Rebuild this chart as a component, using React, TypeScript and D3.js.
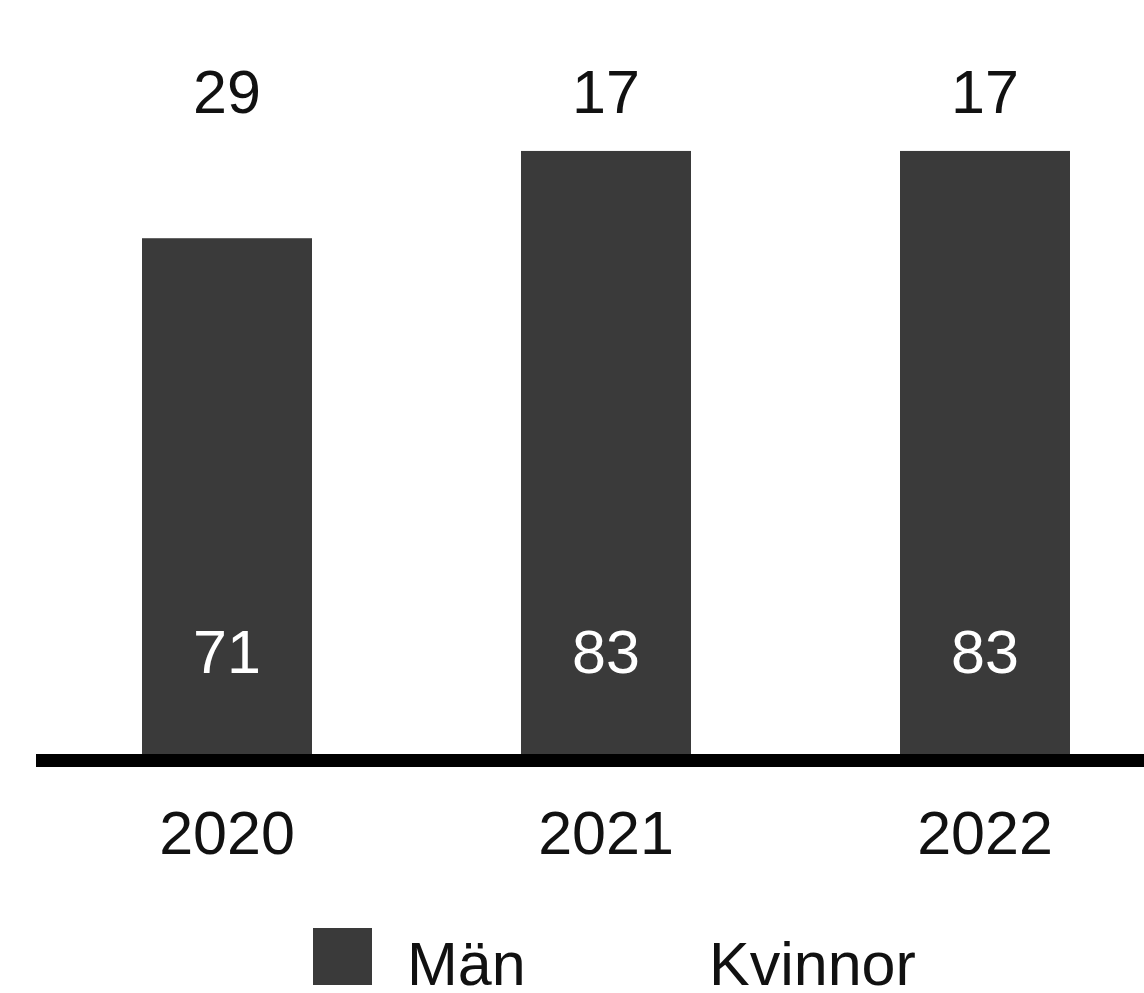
import React, { useEffect } from "react";
import * as d3 from "d3";

const years = ["2020", "2021", "2022"];
const man = [71, 83, 83];
const kvinnor = [29, 17, 17];
const seriesNames = ["Män", "Kvinnor"];

const W = 1144;
const H = 993;
const FONT = "'Liberation Sans', Arial, Helvetica, sans-serif";
const DARK = "#3a3a3a";
const FS = 61;

export default function App() {
  useEffect(() => {
    document.body.style.margin = "0";
  }, []);

  const x = d3.scaleBand<string>().domain(years).range([37.5, 1174.5]).paddingInner(0.5515).paddingOuter(0.5515 / 2);
  const y = d3.scaleLinear().domain([0, 100]).range([755, 27]);

  const rows = years.map((yr, i) => ({ year: yr, man: man[i], kvinnor: kvinnor[i] }));
  const stack = d3.stack<any>().keys(["man", "kvinnor"])(rows);
  const colors: Record<string, string> = { man: DARK, kvinnor: "#ffffff" };

  return (
    <svg width={W} height={H} style={{ display: "block", background: "#fff" }}>
      {stack.map((layer) => (
        <g key={layer.key}>
          {layer.map((d, i) => (
            <rect
              key={i}
              x={x(years[i])}
              y={y(d[1])}
              width={x.bandwidth()}
              height={y(d[0]) - y(d[1])}
              fill={colors[layer.key]}
            />
          ))}
        </g>
      ))}
      {rows.map((r) => (
        <text
          key={"m" + r.year}
          x={(x(r.year) as number) + x.bandwidth() / 2}
          y={y(0) - 82}
          textAnchor="middle"
          fontFamily={FONT}
          fontSize={FS}
          fill="#fff"
        >
          {r.man}
        </text>
      ))}
      {rows.map((r) => (
        <text
          key={"k" + r.year}
          x={(x(r.year) as number) + x.bandwidth() / 2}
          y={y(100) + 86}
          textAnchor="middle"
          fontFamily={FONT}
          fontSize={FS}
          fill="#111"
        >
          {r.kvinnor}
        </text>
      ))}
      <line x1={36} x2={W} y1={760.5} y2={760.5} stroke="#000" strokeWidth={13} />
      {years.map((yr) => (
        <text
          key={yr}
          x={(x(yr) as number) + x.bandwidth() / 2}
          y={854}
          textAnchor="middle"
          fontFamily={FONT}
          fontSize={FS}
          fill="#111"
        >
          {yr}
        </text>
      ))}
      <g>
        <rect x={313} y={928} width={59} height={57} fill={DARK} />
        <text x={407} y={985} fontFamily={FONT} fontSize={FS} fill="#111">
          {seriesNames[0]}
        </text>
        <rect x={614} y={928} width={59} height={57} fill="#fff" />
        <text x={709} y={985} fontFamily={FONT} fontSize={FS} fill="#111">
          {seriesNames[1]}
        </text>
      </g>
    </svg>
  );
}
